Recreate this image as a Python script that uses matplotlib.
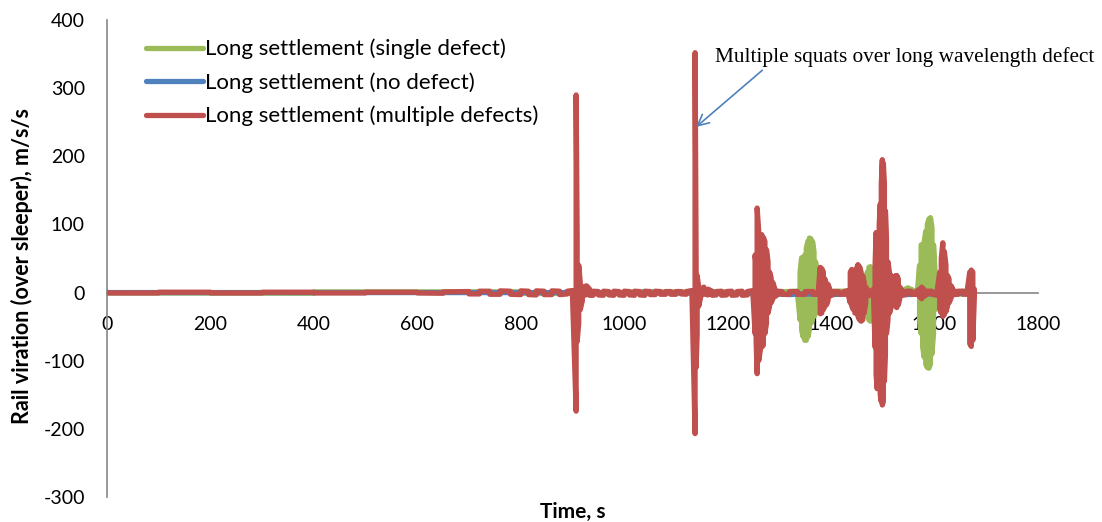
import matplotlib
matplotlib.use('Agg')
import matplotlib.pyplot as plt

# envelope of each vibration trace: time (s), upper / lower peak (m/s/s)
red_time = [0, 100, 200, 300, 400, 500, 600, 650, 700, 720, 740, 760, 780, 800, 815, 830, 845, 860, 875, 890, 900,
            907, 909, 912, 915, 919, 923, 927, 933, 940, 950, 960, 970, 980, 990, 1000, 1010, 1020, 1030, 1040,
            1050, 1060, 1070, 1080, 1090, 1100, 1110, 1120, 1131,
            1137, 1139, 1141, 1144, 1148, 1154, 1162, 1170, 1178, 1188, 1198, 1208, 1218, 1228, 1238, 1249,
            1253, 1255, 1257, 1260, 1263, 1266, 1269, 1272, 1275, 1278, 1281, 1284, 1287, 1291, 1297, 1305,
            1320, 1335, 1350, 1365, 1375,
            1379, 1382, 1385, 1388, 1391, 1394, 1398, 1405, 1415, 1425, 1433,
            1437, 1440, 1443, 1446, 1449, 1452, 1455, 1458, 1461, 1464, 1467, 1471, 1477, 1482,
            1485, 1487, 1489, 1491, 1493, 1495, 1497, 1499, 1501, 1503, 1505, 1507, 1510, 1513, 1516, 1519,
            1522, 1525, 1527, 1530, 1533, 1537, 1545, 1555, 1565, 1571, 1575, 1579, 1585, 1595, 1605,
            1610, 1613, 1616, 1619, 1622, 1625, 1628, 1632, 1637, 1645, 1655, 1663,
            1668, 1671, 1674, 1677]
red_upper = [0.5, 0.5, 0.5, 0.5, 0.5, 0.5, 0.5, 1, 1.5, 2, 2, 2.5, 2, 2.5, 2, 2.5, 2, 2.5, 2, 2, 3,
             290, 82, 40, 15, 6, 9, 10, 5, 2, 1.5, 2, 1.5, 2, 1.5, 2, 1.5, 2, 1.5, 2,
             1.5, 2, 1.5, 1.5, 1.5, 1.5, 1.5, 1.5, 3,
             352, 45, 25, 8, 5, 8, 5, 2, 1.5, 2, 1.5, 2, 1.5, 2, 1.5, 3,
             55, 40, 124, 90, 80, 85, 81, 75, 63, 45, 30, 22, 15, 6, 2, 1.5,
             1.5, 1.5, 1.5, 1.5, 1.5,
             37, 35, 30, 20, 12, 12, 4, 1.5, 1.5, 1.5, 3,
             30, 34, 30, 25, 35, 41, 38, 30, 25, 15, 8, 3, 2, 5,
             40, 88, 85, 80, 100, 130, 160, 195, 190, 160, 120, 80, 45, 28, 25, 20,
             15, 25, 25, 20, 8, 3, 2, 2, 2, 5, 8, 5, 2, 2, 3,
             30, 50, 73, 60, 40, 25, 20, 10, 3, 2, 2, 2,
             30, 33, 30, 5]
red_lower = [-0.5, -0.5, -0.5, -0.5, -0.5, -0.5, -0.5, -1, -2, -2, -2.5, -2.5, -2.5, -3, -3, -3.5, -3, -3, -3, -2, -4,
             -174, -72, -45, -25, -12, -4, -3, -4, -4, -3.5, -4, -3.5, -4, -3.5, -4, -3.5, -4, -3.5, -4,
             -3, -3, -2.5, -2.5, -2.5, -2.5, -2, -2.5, -4,
             -207, -110, -60, -20, -6, -2, -3.5, -4, -3.5, -4, -3.5, -4, -3.5, -4, -3.5, -4,
             -60, -70, -119, -100, -85, -80, -77, -60, -45, -30, -20, -15, -10, -6, -3, -2.5,
             -2.5, -2.5, -2.5, -2.5, -2.5,
             -31, -30, -25, -20, -18, -12, -5, -2.5, -2.5, -2.5, -3,
             -15, -20, -25, -30, -30, -35, -40, -42, -40, -30, -15, -5, -3, -6,
             -80, -120, -141, -120, -130, -150, -160, -165, -160, -130, -90, -60, -40, -30, -22, -18,
             -15, -20, -22, -18, -8, -4, -3, -2.5, -2.5, -6, -9, -6, -2.5, -2.5, -4,
             -25, -30, -35, -32, -28, -20, -15, -8, -3, -2.5, -2.5, -2.5,
             -75, -79, -70, -5]

green_time = [0, 400, 800, 1000, 1200, 1300, 1335,
              1340, 1343, 1346, 1349, 1352, 1355, 1358, 1361, 1364, 1367, 1370, 1373, 1376, 1380,
              1405, 1445, 1467,
              1470, 1473, 1476, 1479, 1482, 1485, 1495, 1515, 1535,
              1543, 1549, 1555, 1561, 1567,
              1571, 1574, 1577, 1580, 1583, 1586, 1589, 1592, 1595, 1598, 1601, 1605,
              1625, 1655, 1677]
green_upper = [0.5, 1, 1, 1, 1, 1, 2,
               30, 51, 50, 55, 65, 75, 80, 79, 75, 60, 45, 25, 8, 3,
               2, 2, 3,
               30, 37, 38, 35, 20, 10, 5, 3, 3,
               5, 7, 5, 2, 3,
               40, 70, 68, 75, 90, 100, 108, 110, 95, 70, 30, 4,
               3, 2, 2]
green_lower = [-0.5, -1, -1, -1, -1, -1, -2,
               -40, -55, -65, -70, -70, -65, -55, -45, -40, -35, -30, -28, -10, -3,
               -2, -2, -3,
               -35, -40, -42, -40, -25, -10, -5, -3, -3,
               -2, -1, -2, -2, -3,
               -40, -60, -80, -95, -105, -110, -111, -105, -90, -60, -25, -4,
               -3, -2, -2]

blue_time = [0, 300, 600, 900, 1200, 1290, 1320, 1340, 1400, 1440, 1540, 1600, 1677]
blue_value = [0, 0, 0, 0, -1, -2, -3, -2, -3, -2, -3, -2, -1]

x_ticks = [0, 200, 400, 600, 800, 1000, 1200, 1400, 1600, 1800]
y_ticks = [-300, -200, -100, 0, 100, 200, 300, 400]

GREEN = '#9bbb59'
BLUE = '#4f81bd'
RED = '#c0504d'
AXIS = '#868686'


def trace(times, upper, lower):
    """Walk the envelope so every sample is drawn as a vertical swing."""
    xs, ys = [], []
    for i, (t, hi, lo) in enumerate(zip(times, upper, lower)):
        pair = (hi, lo) if i % 2 == 0 else (lo, hi)
        xs += [t, t]
        ys += list(pair)
    return xs, ys


plt.rcParams['font.family'] = ['Lato', 'DejaVu Sans']
plt.rcParams['axes.unicode_minus'] = False

fig = plt.figure(figsize=(11.02, 5.22), dpi=100)
ax = fig.add_axes([107 / 1102, 1 - 497 / 522, 931 / 1102, 477 / 522])

line_kw = dict(linewidth=3.8, solid_joinstyle='round', solid_capstyle='round', zorder=3)
gx, gy = trace(green_time, green_upper, green_lower)
ax.plot(gx, gy, color=GREEN, label='Long settlement (single defect)', **line_kw)
ax.plot(blue_time, blue_value, color=BLUE, label='Long settlement (no defect)', **line_kw)
rx, ry = trace(red_time, red_upper, red_lower)
ax.plot(rx, ry, color=RED, label='Long settlement (multiple defects)', **line_kw)

ax.set_xlim(0, 1800)
ax.set_ylim(-300, 400)
ax.set_xticks(x_ticks)
ax.set_yticks(y_ticks)

for side in ['top', 'right']:
    ax.spines[side].set_visible(False)
ax.spines['bottom'].set_position(('data', 0))
for side in ['left', 'bottom']:
    ax.spines[side].set_color(AXIS)
    ax.spines[side].set_linewidth(1.2)
ax.tick_params(axis='both', length=0, labelsize=14, colors='black')
ax.tick_params(axis='x', pad=17)
ax.tick_params(axis='y', pad=16)

ax.set_ylabel('Rail viration (over sleeper), m/s/s', fontsize=15.5, fontweight='bold')
ax.yaxis.set_label_coords(-0.0795, 0.484)
ax.set_xlabel('Time, s', fontsize=15, fontweight='bold', va='center')
ax.xaxis.set_label_coords(0.5, -0.032)

ax.annotate('Multiple squats over long wavelength defect',
            xy=(1139, 243), xytext=(1175, 345),
            fontsize=15.3, family='Liberation Serif', va='center', ha='left',
            arrowprops=dict(arrowstyle='->', color=BLUE, lw=1.2, shrinkA=0, shrinkB=0,
                            mutation_scale=20, relpos=(0.134, 0.0)))

ax.legend(loc='upper left', bbox_to_anchor=(0.0296, 0.984), frameon=False, fontsize=16,
          handlelength=2.6, handletextpad=0.05, labelspacing=0.58, borderpad=0)

fig.savefig('out.png', dpi=100)
